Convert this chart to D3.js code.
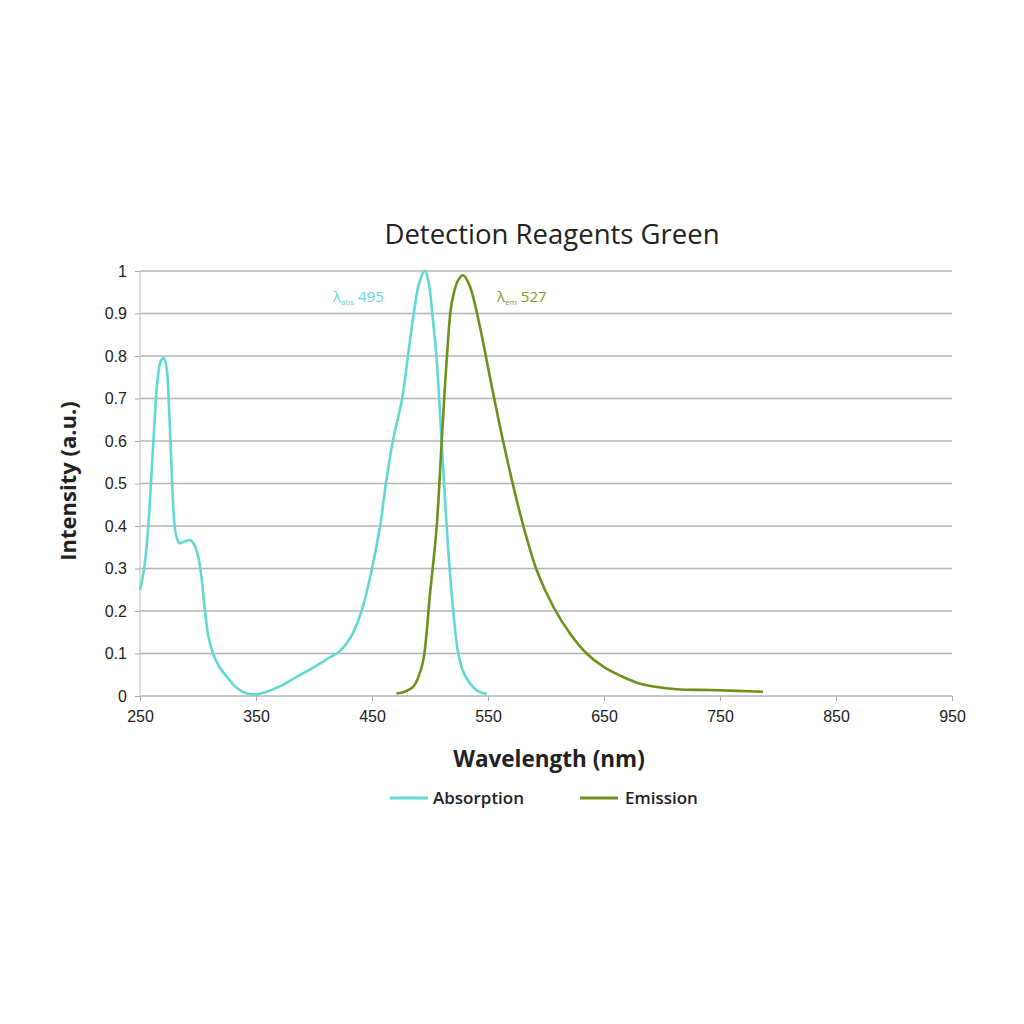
<!DOCTYPE html>
<html><head><meta charset="utf-8">
<script src="https://cdn.jsdelivr.net/npm/d3@7"></script>
<style>body{margin:0;background:#fff;} svg{display:block;font-family:"Open Sans",Lato,sans-serif;}</style>
</head><body>
<svg id="c" width="1024" height="1024"></svg>
<script>
const title = "Detection Reagents Green";
const xTicks = [250,350,450,550,650,750,850,950];
const yTicks = [0,0.1,0.2,0.3,0.4,0.5,0.6,0.7,0.8,0.9,1];
const absWl  = [250,253,256,259,262,265,268,270.5,273,275,277,279,281,284,289,293,297,300,303,306,309,313,318,325,333,342,350,358,370,385,400,413,422,432,441,450,457,462,468,476,481,486,491,495.7,499,502,505.8,510,514.4,518.7,524.4,529,534.5,541,548.9];
const absVal = [0.25,0.29,0.36,0.48,0.62,0.74,0.788,0.795,0.77,0.68,0.55,0.43,0.38,0.36,0.364,0.367,0.355,0.33,0.28,0.2,0.14,0.10,0.07,0.045,0.02,0.006,0.004,0.009,0.022,0.045,0.068,0.09,0.105,0.14,0.2,0.3,0.4,0.5,0.6,0.7,0.8,0.9,0.975,1.0,0.97,0.9,0.79,0.60,0.398,0.24,0.10,0.055,0.03,0.012,0.005];
const emWl  = [471,478,485.6,490,494.3,500,505.8,510,514.4,518.7,524.4,528.7,534.5,543,551.7,563,577.6,592,606.3,620.7,635,649.4,663.8,683.6,712.6,741,765,787];
const emVal = [0.006,0.01,0.022,0.045,0.085,0.24,0.40,0.595,0.79,0.924,0.979,0.99,0.963,0.869,0.75,0.60,0.43,0.296,0.21,0.147,0.10,0.069,0.048,0.027,0.016,0.014,0.012,0.01];
const seriesNames = ["Absorption","Emission"];
const colors = ["#62d8d2","#6e901c"];

const svg = d3.select("#c");
const x = d3.scaleLinear().domain([250,950]).range([140,952]);
const y = d3.scaleLinear().domain([0,1]).range([696,271]);

svg.append("g").selectAll("line").data(yTicks).join("line")
  .attr("x1",140).attr("x2",952).attr("y1",d=>y(d)).attr("y2",d=>y(d))
  .attr("stroke","#b4b4b4").attr("stroke-width",1.6);
svg.append("line").attr("x1",140).attr("x2",140).attr("y1",y(1)).attr("y2",y(0)).attr("stroke","#d0d0d0").attr("stroke-width",1.5);

const yAxis = d3.axisLeft(y).tickValues(yTicks).tickFormat(d=>d3.format("")(+d.toFixed(1))).tickSize(5).tickPadding(8);
const gy = svg.append("g").attr("transform","translate(140,0)").call(yAxis);
gy.select(".domain").remove();
gy.selectAll("line").attr("stroke","#aaa");
gy.selectAll("text").attr("font-size",16).attr("fill","#222");

const xAxis = d3.axisBottom(x).tickValues(xTicks).tickSize(5).tickPadding(10);
const gx = svg.append("g").attr("transform","translate(0,696)").call(xAxis);
gx.select(".domain").remove();
gx.selectAll("line").attr("stroke","#aaa");
gx.selectAll("text").attr("font-size",16).attr("fill","#222");

const line = d3.line().x(d=>x(d[0])).y(d=>y(d[1])).curve(d3.curveCatmullRom.alpha(0.5));
svg.append("path").datum(d3.zip(absWl,absVal)).attr("d",line)
  .attr("fill","none").attr("stroke",colors[0]).attr("stroke-width",2.6);
svg.append("path").datum(d3.zip(emWl,emVal)).attr("d",line)
  .attr("fill","none").attr("stroke",colors[1]).attr("stroke-width",2.6);

function lam(xp, sub, val, col){
  const t = svg.append("text").attr("x",xp).attr("y",302).attr("fill",col).attr("font-size",15);
  t.append("tspan").text("λ");
  t.append("tspan").attr("font-size",8).attr("dy",3).text(sub);
  t.append("tspan").attr("dy",-3).text(" " + val);
}
lam(333,"abs","495",colors[0]);
lam(497,"em","527","#7d9a2a");

svg.append("text").attr("x",552).attr("y",244).attr("text-anchor","middle")
  .attr("font-size",27.5).attr("fill","#222").text(title);
svg.append("text").attr("transform","translate(76,481) rotate(-90)").attr("text-anchor","middle")
  .attr("font-size",22).attr("font-weight","bold").attr("fill","#222").text("Intensity (a.u.)");
svg.append("text").attr("x",549).attr("y",767).attr("text-anchor","middle")
  .attr("font-size",22.5).attr("font-weight","bold").attr("fill","#222").text("Wavelength (nm)");

const lg = [[390,433],[580,625]];
seriesNames.forEach((n,i)=>{
  svg.append("line").attr("x1",lg[i][0]).attr("x2",lg[i][0]+38).attr("y1",798).attr("y2",798)
    .attr("stroke",colors[i]).attr("stroke-width",3);
  svg.append("text").attr("x",lg[i][1]).attr("y",804).attr("font-size",17).attr("font-weight","600")
    .attr("fill","#222").text(n);
});
</script>
</body></html>
